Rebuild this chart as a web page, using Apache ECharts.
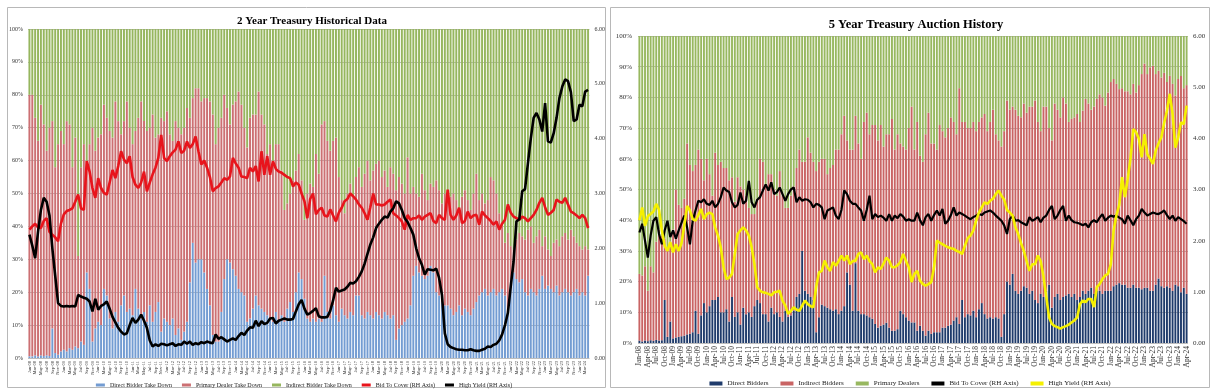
<!DOCTYPE html>
<html><head><meta charset="utf-8">
<script src="https://cdn.jsdelivr.net/npm/echarts/dist/echarts.min.js"></script>
<style>
html,body{margin:0;padding:0;background:#fff;width:1212px;height:391px;overflow:hidden}
#l{position:absolute;left:0;top:0;width:608px;height:391px}
#r{position:absolute;left:608px;top:0;width:604px;height:391px}
</style></head>
<body><div id="l"></div><div id="r"></div>
<script>
// ---------- categories (monthly auctions Jan-08 .. Apr-24) ----------
const MONTH_NAMES = ['Jan','Feb','Mar','Apr','May','Jun','Jul','Aug','Sep','Oct','Nov','Dec'];
const FIRST_YEAR = 2008, LAST_YEAR = 2024, LAST_MONTH_INDEX = 3;
const categories = [];
for (let y = FIRST_YEAR; y <= LAST_YEAR; y++) {
  for (let m = 0; m < 12; m++) {
    if (y === LAST_YEAR && m > LAST_MONTH_INDEX) break;
    categories.push(MONTH_NAMES[m] + '-' + String(y).slice(2));
  }
}

// ---------- LEFT: 2 Year Treasury ----------
const leftTitle = '2 Year Treasury Historical Data';
const leftDirect = [
0.5,0.5,0.8,0.5,0.8,0.6,0.8,0.6,9,1.5,
1,2,2.5,2,3,2.5,3.5,3,5,4,
26,21,5,9,11,10,21,19,12,9,
14,11,16,19,14,15,13,21,15,12,
14,11,16,11,14,17,8,12,11,10,
12,7,9,5.5,8,11,23,35,29,30,
30,26,21,16,7,5,5,14,24,30,
29,27,25,21,20,19,11,12,15,19,
16,15,14,13,12,11,14,11,13,11,
15,17,14,20,26,24,18,12,11,12,
11,12,11,25,14,12,16,13,11,15,
13,12,14,13,19,19,13,12,14,13,
12,14,13,12,14,13,12,13,5.5,9,
10,11,12,16,25,28,26,25,24,25,
28,26,20,19,17,16,16,15,13,14,
16,13,15,14,13,15,17,19,20,21,
19,20,21,19,20,21,19,14,22,26,
24,23,24,20,19,21,20,19,21,25,
21,22,21,20,22,19,20,21,20,19,
20,21,19,20,19,25];
// top edge of the red (primary dealer) segment, in %
const leftDirectPlusPrimary = [
80,80,73,66,77,71,63,70,72,58,
65,69,65,72,71,58,67,31,58,65,
60,65,70,63,67,68,77,73,69,67,
78,72,68,72,78,70,65,69,73,78,
72,69,70,74,67,68,73,72,75,68,
66,72,70,68,70,76,73,79,82,82,
78,79,79,78,74,65,70,73,80,76,
71,77,78,81,77,70,64,73,74,74,
81,74,71,62,65,60,65,65,57,45,
47,50,54,57,62,54,42,50,53,52,
62,56,71,72,66,63,66,67,55,48,
44,50,53,49,55,58,52,56,60,54,
57,59,60,55,57,52,58,56,51,55,
53,50,61,50,52,50,49,56,51,48,
53,52,54,51,47,50,51,49,50,48,
45,49,51,48,45,50,56,48,50,47,
48,55,54,50,44,40,35,38,34,33,
36,38,37,36,39,40,35,37,39,34,
37,33,31,35,36,34,37,38,36,39,
37,35,34,33,34,33];
const leftBidToCover = [
2.34,2.4,2.45,2.38,2.37,2.5,2.55,2.3,2.25,2.2,
2.13,2.45,2.62,2.68,2.7,2.73,2.85,2.98,2.73,2.7,
3.59,3.4,3.1,2.92,3.28,3.1,3.01,2.98,3.2,3.43,
3.28,3.5,3.77,3.62,3.55,3.68,3.3,3.16,3.1,3.2,
3.4,3.04,3.2,3.35,3.47,3.65,4.07,3.65,3.59,3.68,
3.75,3.8,3.95,3.74,3.78,3.95,3.83,3.9,4.04,3.77,
3.53,3.6,3.47,3.3,3.04,3.1,3.13,3.2,3.28,3.25,
3.31,3.65,3.55,3.47,3.31,3.3,3.28,3.47,3.4,3.5,
3.22,3.77,3.34,3.68,3.34,3.59,3.45,3.4,3.38,3.34,
3.3,3.28,3.13,3.2,3.16,3.0,2.86,2.55,2.9,3.0,
2.62,2.7,2.74,2.6,2.58,2.71,2.6,2.49,2.65,2.74,
2.86,2.9,3.0,2.95,2.89,2.8,2.74,2.64,2.52,2.75,
3.0,2.8,2.8,2.78,2.8,2.85,2.89,2.64,2.6,2.55,
2.49,2.34,2.61,2.52,2.55,2.55,2.6,2.52,2.58,2.61,
2.64,2.5,2.46,2.61,2.55,2.52,3.07,2.61,2.52,2.6,
2.74,2.46,2.5,2.67,2.55,2.6,2.61,2.43,2.67,2.6,
2.55,2.5,2.43,2.49,2.34,2.45,2.52,2.8,2.65,2.58,
2.55,2.52,2.58,2.55,2.49,2.55,2.61,2.7,2.83,2.92,
2.75,2.61,2.65,2.7,2.89,2.85,2.83,2.92,2.8,2.67,
2.64,2.6,2.55,2.61,2.55,2.37];
const leftHighYield = [
2.25,2.05,1.82,2.3,2.7,2.92,2.85,2.6,2.0,1.5,
1.0,0.95,0.94,0.95,0.94,0.95,0.94,1.15,1.12,1.1,
1.08,1.03,0.85,1.08,0.88,0.95,0.98,1.03,0.9,0.75,
0.65,0.55,0.48,0.43,0.45,0.6,0.73,0.64,0.7,0.79,
0.68,0.55,0.32,0.21,0.25,0.22,0.26,0.25,0.23,0.25,
0.27,0.22,0.25,0.24,0.3,0.26,0.3,0.24,0.27,0.25,
0.29,0.27,0.3,0.28,0.27,0.43,0.35,0.38,0.34,0.3,
0.33,0.36,0.33,0.4,0.46,0.42,0.5,0.56,0.55,0.68,
0.58,0.67,0.62,0.64,0.72,0.73,0.63,0.68,0.7,0.72,
0.7,0.7,0.71,0.85,0.98,1.06,0.9,0.79,0.82,0.86,
0.91,0.76,0.74,0.74,0.75,0.86,1.05,1.28,1.21,1.23,
1.25,1.3,1.37,1.36,1.4,1.48,1.58,1.72,1.9,2.07,
2.2,2.37,2.45,2.52,2.58,2.56,2.67,2.73,2.86,2.82,
2.7,2.55,2.48,2.37,2.25,2.0,1.82,1.7,1.52,1.62,
1.61,1.6,1.63,1.46,1.15,0.45,0.25,0.2,0.18,0.16,
0.15,0.15,0.14,0.14,0.16,0.14,0.13,0.13,0.15,0.17,
0.21,0.2,0.24,0.26,0.32,0.43,0.6,0.82,1.3,1.76,
2.49,2.53,3.04,3.08,3.55,4.0,4.38,4.47,4.35,4.13,
4.65,3.95,3.93,4.1,4.38,4.74,4.95,5.08,5.05,4.85,
4.32,4.35,4.62,4.59,4.86,4.89];

// ---------- RIGHT: 5 Year Treasury ----------
const rightTitle = '5 Year Treasury Auction History';
const rightDirect = [
0.8,0.5,0.8,0.6,0.9,0.7,1,0.8,0.9,14,
2,7,1.5,1.8,2,2.2,2.4,2.8,3,3.5,
10.5,3,9,13,10,12,14,14,15,10,
10,11,7,15,8.5,10,6,11.5,9.4,10,
8.5,12,14,13,9.4,9.4,7,11.5,9.4,10,
8.5,7,10.5,8.5,9,10.5,15,16,30,17,
16,15,14,3.5,8.4,12.5,12,11.5,11,10.5,
11,9.4,10.5,12,23,19,10.5,26,10.5,9.4,
9.4,9,8.4,7.9,6.2,5,5.6,6,6.6,5,
4,4,4.5,10.5,9.4,8.4,7.3,6.7,6.7,4,
5.6,4,2.4,4,3,3.5,3.5,3.5,5,5,
5.6,6,7.3,8.4,6.2,14,8.4,9.4,9,10.5,
8.4,11,13,9.4,8,8.4,8,8.4,8,2,
9.4,20,19,22.5,17,16,17,18.5,18,16,
17,14,13,16,15,17,19,11.5,15,16,
14,15,15.5,16,15,16,14,15,17,16,
17,18,16,17,17,16,17,17,17,18.5,
19,19.5,19,19,18,18,19,18,18,17.5,
18,18,17,17,19,21,18.5,18,18.5,18,
17,19,18.5,16.5,18,16];
// top edge of the red (indirect bidders) segment, in %
const rightDirectPlusIndirect = [
22.5,22,25,17,25,23,33,37,35,34,
30,33,37,50,45,44,47,65,58,56,
58,63,60,53,60,55,48,62,58,59,
57,57,53,54,46,54,51,50,48,44,
42,42,47,60,59,51,55,55,50,48,
56,48,44,44,48,51,57,63,59,59,
67,62,59,56,59,60,60,55,57,58,
63,63,68,74,66,63,63,74,65,60,
72,75,68,71,71,66,71,64,68,68,
73,63,68,65,64,63,70,77,63,72,
61,59,68,75,65,65,63,71,69,67,
70,73.5,72,68,83,72,72,70,70,72,
69,72,73.5,74.6,69,72,76,68,66,64,
69,79,76,77,76,74,73.5,78,75,77,
77,79,72,69,77,77,70,66,78,76,
73.5,80,78,72,73,73.5,74.6,72,75.7,79.5,
78,76,77,79.5,81,80,77.3,81.6,85,86,
84.4,82.7,83,82,82,81,84.4,81.6,84,87.6,
91,87.6,89.8,90.3,87.6,88.7,86.5,88,85,87,
84.4,80.6,86,87,83,84];
const rightBidToCover = [
2.16,2.33,2.0,1.67,2.1,2.39,2.46,2.13,1.93,2.2,
2.39,2.07,2.2,2.04,2.2,2.35,2.49,2.26,1.93,2.39,
2.59,2.78,2.75,2.81,2.72,2.7,2.78,2.65,2.72,2.85,
3.04,2.98,2.95,2.75,2.65,2.7,2.94,2.72,2.78,3.17,
2.75,2.65,2.8,2.85,2.98,3.1,2.98,3.14,2.91,2.95,
3.04,2.91,2.78,2.91,3.0,3.04,2.75,2.85,2.78,2.81,
2.8,2.75,2.65,2.72,2.7,2.65,2.42,2.59,2.62,2.65,
2.49,2.42,2.6,2.98,2.91,2.78,2.72,2.72,2.65,2.59,
2.39,2.6,2.88,2.42,2.52,2.46,2.49,2.45,2.39,2.52,
2.39,2.49,2.44,2.52,2.47,2.39,2.42,2.39,2.39,2.55,
2.4,2.3,2.46,2.52,2.39,2.5,2.59,2.49,2.62,2.33,
2.39,2.5,2.65,2.49,2.55,2.52,2.49,2.45,2.42,2.46,
2.49,2.52,2.5,2.55,2.57,2.59,2.55,2.49,2.44,2.39,
2.3,2.13,2.42,2.49,2.39,2.4,2.36,2.33,2.3,2.46,
2.39,2.42,2.46,2.36,2.45,2.49,2.6,2.68,2.42,2.49,
2.6,2.68,2.39,2.49,2.4,2.36,2.35,2.33,2.3,2.33,
2.26,2.36,2.4,2.36,2.45,2.52,2.39,2.45,2.49,2.47,
2.49,2.45,2.42,2.33,2.49,2.4,2.3,2.42,2.49,2.62,
2.55,2.49,2.52,2.55,2.53,2.52,2.55,2.59,2.5,2.42,
2.49,2.39,2.46,2.42,2.38,2.33];
const rightHighYield = [
2.4,2.65,2.29,2.48,2.52,2.57,2.72,2.6,2.2,1.9,
1.8,1.97,1.77,1.93,1.8,1.95,2.3,2.68,2.59,2.42,
2.39,2.5,2.62,2.42,2.52,2.55,2.52,2.26,2.1,1.87,
1.48,1.25,1.28,1.35,1.74,2.13,2.2,2.26,2.2,2.1,
1.87,1.54,1.09,1.02,0.99,0.98,0.96,0.93,0.99,1.0,
1.02,0.83,0.73,0.57,0.63,0.7,0.65,0.63,0.73,0.83,
0.76,0.72,0.7,1.1,1.38,1.41,1.61,1.48,1.41,1.58,
1.51,1.6,1.71,1.61,1.71,1.54,1.6,1.61,1.74,1.77,
1.64,1.71,1.6,1.54,1.38,1.48,1.45,1.55,1.67,1.61,
1.48,1.48,1.52,1.58,1.74,1.6,1.48,1.19,1.35,1.41,
1.22,1.15,1.12,1.15,1.19,1.48,2.0,1.96,1.93,1.9,
1.87,1.85,1.84,1.8,1.78,1.74,1.9,2.05,2.1,2.2,
2.39,2.55,2.65,2.75,2.72,2.78,2.82,2.91,2.98,2.88,
2.8,2.6,2.55,2.49,2.26,2.13,1.95,1.8,1.6,1.41,
1.54,1.54,1.71,1.6,1.3,0.9,0.5,0.37,0.33,0.31,
0.28,0.31,0.33,0.36,0.4,0.44,0.5,0.76,0.83,0.8,
0.86,0.86,0.7,1.09,1.15,1.25,1.32,1.35,1.54,2.2,
2.5,2.7,3.24,2.85,3.2,3.6,4.18,4.12,3.99,3.63,
4.08,3.69,3.6,3.5,3.76,3.9,4.02,4.3,4.54,4.87,
4.48,3.82,4.02,4.31,4.28,4.64];

const pctTicks = {min: 0, max: 100, interval: 10};
const rhTicks = {min: 0, max: 6, interval: 1};

const SERIF = "'Liberation Serif','DejaVu Serif',serif";

function panel(el, cfg) {
  const chart = echarts.init(document.getElementById(el), null, {renderer: 'canvas'});
  const mid = cfg.top.map((t, i) => +(t - cfg.bottom[i]).toFixed(2));
  const rest = cfg.top.map(t => +(100 - t).toFixed(2));
  const barBase = {type: 'bar', stack: 'tot', barCategoryGap: '32%', xAxisIndex: 0, yAxisIndex: 0, silent: true};
  chart.setOption({
    animation: false,
    backgroundColor: '#fff',
    graphic: [{type: 'rect', shape: cfg.frame, style: {fill: 'none', stroke: '#b8b8b8', lineWidth: 1}}],
    title: {text: cfg.title, left: cfg.titleX, top: cfg.titleTop, textAlign: 'center',
      textStyle: {fontFamily: SERIF, fontWeight: 'bold', fontSize: cfg.titleSize, color: '#000'}},
    legend: {top: cfg.legendTop, left: 'center', itemWidth: cfg.legendIconW, itemHeight: cfg.legendIconH,
      itemGap: cfg.legendGap, icon: 'rect',
      textStyle: {fontFamily: SERIF, fontSize: cfg.legendFont, color: '#222'},
      data: cfg.names},
    grid: cfg.grid,
    xAxis: {type: 'category', data: categories, boundaryGap: true,
      axisLine: {show: false}, axisTick: {show: false},
      axisLabel: {rotate: 90, interval: cfg.xInterval, fontSize: cfg.xFont, fontFamily: SERIF, color: '#333', margin: 3}},
    yAxis: [
      {type: 'value', min: pctTicks.min, max: pctTicks.max, interval: pctTicks.interval,
        axisLine: {show: false}, axisTick: {show: false},
        axisLabel: {formatter: '{value}%', fontSize: cfg.yFont, fontFamily: SERIF, color: '#333', margin: cfg.yMargin},
        splitLine: {show: true, lineStyle: {color: '#909090', width: 0.6}}},
      {type: 'value', min: rhTicks.min, max: rhTicks.max, interval: rhTicks.interval, position: 'right',
        axisLine: {show: false}, axisTick: {show: false}, splitLine: {show: false},
        axisLabel: {formatter: v => v.toFixed(2), fontSize: cfg.yFont, fontFamily: SERIF, color: '#333', margin: 5}}
    ],
    series: [
      Object.assign({}, barBase, {name: cfg.names[0], data: cfg.bottom, itemStyle: {color: cfg.colors[0]}}),
      Object.assign({}, barBase, {name: cfg.names[1], data: mid, itemStyle: {color: cfg.colors[1]}}),
      Object.assign({}, barBase, {name: cfg.names[2], data: rest, itemStyle: {color: cfg.colors[2]}}),
      {type: 'line', name: cfg.names[3], data: cfg.line1, yAxisIndex: 1, symbol: 'none', silent: true,
        lineStyle: {color: cfg.colors[3], width: cfg.w1}, itemStyle: {color: cfg.colors[3]}, z: 5},
      {type: 'line', name: cfg.names[4], data: cfg.line2, yAxisIndex: 1, symbol: 'none', silent: true,
        lineStyle: {color: cfg.colors[4], width: cfg.w2}, itemStyle: {color: cfg.colors[4]}, z: 6}
    ]
  });
}

panel('l', {
  title: leftTitle, titleX: 307, titleTop: 11, titleSize: 11,
  frame: {x: 7.5, y: 7.5, width: 598, height: 380},
  grid: {left: 28, top: 29, width: 562, height: 329},
  names: ['Direct Bidder Take Down', 'Primary Dealer Take Down', 'Indirect Bidder Take Down', 'Bid To Cover (RH Axis)', 'High Yield (RH Axis)'],
  colors: ['#739CD2', '#CC7073', '#96B65E', '#E8141C', '#000000'],
  bottom: leftDirect, top: leftDirectPlusPrimary, line1: leftBidToCover, line2: leftHighYield,
  w1: 2.6, w2: 2.6,
  legendTop: 377, legendIconW: 9, legendIconH: 3, legendGap: 10, legendFont: 6,
  xInterval: 1, xFont: 4.5, yFont: 6, yMargin: 5
});

panel('r', {
  title: rightTitle, titleX: 303, titleTop: 13, titleSize: 12.5,
  frame: {x: 2.5, y: 7.5, width: 599, height: 380},
  grid: {left: 30, top: 36, width: 550, height: 307},
  names: ['Direct Bidders', 'Indirect Bidders', 'Primary Dealers', 'Bid To Cover (RH Axis)', 'High Yield (RH Axis)'],
  colors: ['#1F3B6B', '#C96464', '#98B860', '#000000', '#F5F000'],
  bottom: rightDirect, top: rightDirectPlusIndirect, line1: rightBidToCover, line2: rightHighYield,
  w1: 2.2, w2: 2.6,
  legendTop: 375, legendIconW: 13, legendIconH: 4, legendGap: 12, legendFont: 7,
  xInterval: 2, xFont: 7.5, yFont: 7, yMargin: 6
});
</script></body></html>
